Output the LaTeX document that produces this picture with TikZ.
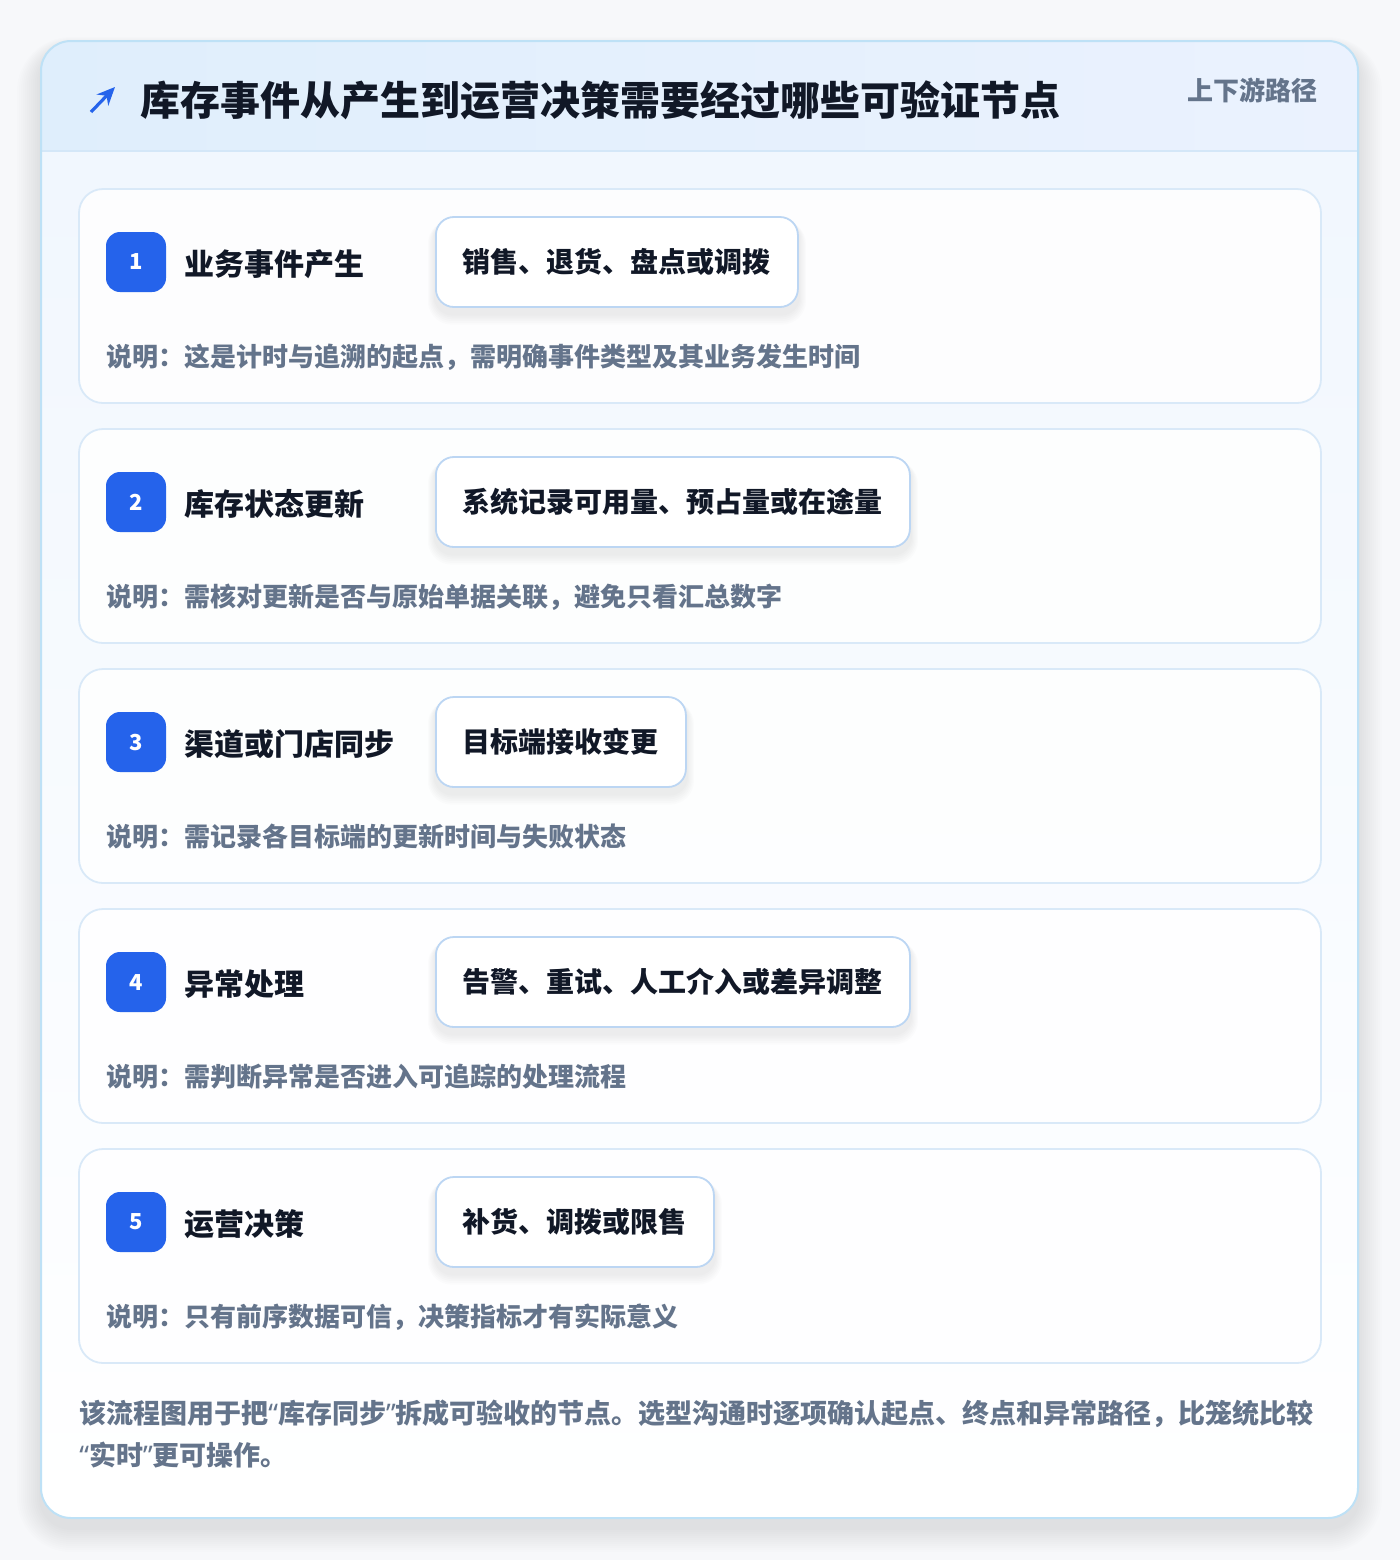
\documentclass[tikz,border=0pt]{standalone}
\usepackage{fontspec}
\setmainfont{Noto Sans CJK SC}
\newfontfamily\latinq{Noto Sans}
\usetikzlibrary{arrows.meta}
\pgfdeclarelayer{bg}
\pgfdeclarelayer{shadow}
\pgfsetlayers{bg,shadow,main}
\definecolor{pagebg}{HTML}{F7F8FA}
\definecolor{cardborder}{HTML}{BEE1F6}
\definecolor{headL}{HTML}{DFEEFC}
\definecolor{headR}{HTML}{EBF2FE}
\definecolor{headline}{HTML}{D4E7F8}
\definecolor{bodytop}{HTML}{F1F7FE}
\definecolor{stepborder}{HTML}{D9E9F8}
\definecolor{badge}{HTML}{2563EB}
\definecolor{boxborder}{HTML}{BCD6F3}
\definecolor{ink}{HTML}{111827}
\definecolor{muted}{HTML}{64748B}
\newcommand{\myoq}{{\latinq\bfseries “}}
\newcommand{\mycq}{{\latinq\bfseries ”}}
\tikzset{
  outercard/.style={rounded corners=15pt, draw=cardborder, line width=1pt},
  stepcard/.style={rounded corners=12pt, draw=stepborder, line width=0.9pt, fill=white, fill opacity=0.85},
  badgebox/.style={rounded corners=7pt, fill=badge, minimum width=30pt, minimum height=30pt, inner sep=0pt, text=white, font=\bfseries\fontsize{11pt}{13pt}\selectfont},
  steptitle/.style={anchor=west, inner sep=0pt, text=ink, font=\bfseries\fontsize{15pt}{18pt}\selectfont},
  detailbox/.style={anchor=west, rounded corners=9pt, draw=boxborder, line width=0.9pt, fill=white, minimum height=45pt, inner xsep=13.5pt, text=ink, font=\bfseries\fontsize{14pt}{17pt}\selectfont},
  desctext/.style={anchor=west, inner sep=0pt, text=muted, font=\bfseries\fontsize{13pt}{16pt}\selectfont},
  softshadow/.style={fill=black, fill opacity=#1},
}
\begin{document}
\begin{tikzpicture}[x=0.5pt, y=-0.5pt]
  \useasboundingbox (0,0) rectangle (1400,1560);
  \begin{pgfonlayer}{bg}
  \fill[pagebg] (0,0) rectangle (1400,1560);
  % outer card soft shadow
  \foreach \k in {1,...,12}{
    \fill[softshadow=0.006, rounded corners=15pt+\k pt] (41-\k*2,41-\k+8) rectangle (1358+\k*2,1518+\k*2+10);
  }
  \fill[rounded corners=15pt, white] (41,41) rectangle (1358,1518);
  \begin{scope}
    \clip[rounded corners=15pt] (41,41) rectangle (1358,1518);
    \shade[top color=bodytop, bottom color=white] (41,151) rectangle (1358,1518);
    \shade[left color=headL, right color=headR] (41,41) rectangle (1358,151);
    \draw[headline, line width=1pt] (41,151) -- (1358,151);
  \end{scope}
  \draw[outercard] (41,41) rectangle (1358,1518);
  \end{pgfonlayer}
  % header
  \coordinate (arrS) at (91,112);
  \coordinate (arrE) at (115,87);
  \draw[badge, line width=1.6pt, -{Stealth[length=9pt,width=8pt]}] (arrS) -- (arrE);
  \node[anchor=west, inner sep=0pt, text=ink, font=\bfseries\fontsize{20pt}{24pt}\selectfont] (title) at (140,100) {库存事件从产生到运营决策需要经过哪些可验证节点};
  \node[anchor=east, inner sep=0pt, text=muted, font=\bfseries\fontsize{13pt}{16pt}\selectfont] (tag) at (1318,90) {上下游路径};
  % steps
  \foreach \i/\yy/\ttl/\bx/\ds in {
    1/189/业务事件产生/销售、退货、盘点或调拨/说明：这是计时与追溯的起点，需明确事件类型及其业务发生时间,
    2/429/库存状态更新/系统记录可用量、预占量或在途量/说明：需核对更新是否与原始单据关联，避免只看汇总数字,
    3/669/渠道或门店同步/目标端接收变更/说明：需记录各目标端的更新时间与失败状态,
    4/909/异常处理/告警、重试、人工介入或差异调整/说明：需判断异常是否进入可追踪的处理流程,
    5/1149/运营决策/补货、调拨或限售/说明：只有前序数据可信，决策指标才有实际意义}{
    \begin{pgfonlayer}{bg}
      \draw[stepcard] (79,\yy) rectangle (1321,\yy+214);
    \end{pgfonlayer}
    \node[badgebox] (badge\i) at (136,\yy+73) {\i};
    \node[steptitle] (st\i) at (184,\yy+75) {\ttl};
    \node[detailbox] (box\i) at (435,\yy+73) {\bx};
    \node[desctext] (desc\i) at (106,\yy+168) {\ds};
    \begin{pgfonlayer}{shadow}
      \foreach \k in {1,...,6}{
        \fill[softshadow=0.012, rounded corners=9pt+0.5*\k pt]
          ([xshift=-0.6*\k pt, yshift=-3pt-0.9*\k pt]box\i.south west) rectangle ([xshift=0.6*\k pt, yshift=-2pt]box\i.north east);
      }
    \end{pgfonlayer}
  }
  % footer
  \node[anchor=north west, inner sep=0pt, align=left, text=muted, font=\bfseries\fontsize{13.5pt}{21pt}\selectfont] (foot) at (79,1400) {该流程图用于把\myoq 库存同步\mycq 拆成可验收的节点。选型沟通时逐项确认起点、终点和异常路径，比笼统比较\\\myoq 实时\mycq 更可操作。};
\end{tikzpicture}
\end{document}
